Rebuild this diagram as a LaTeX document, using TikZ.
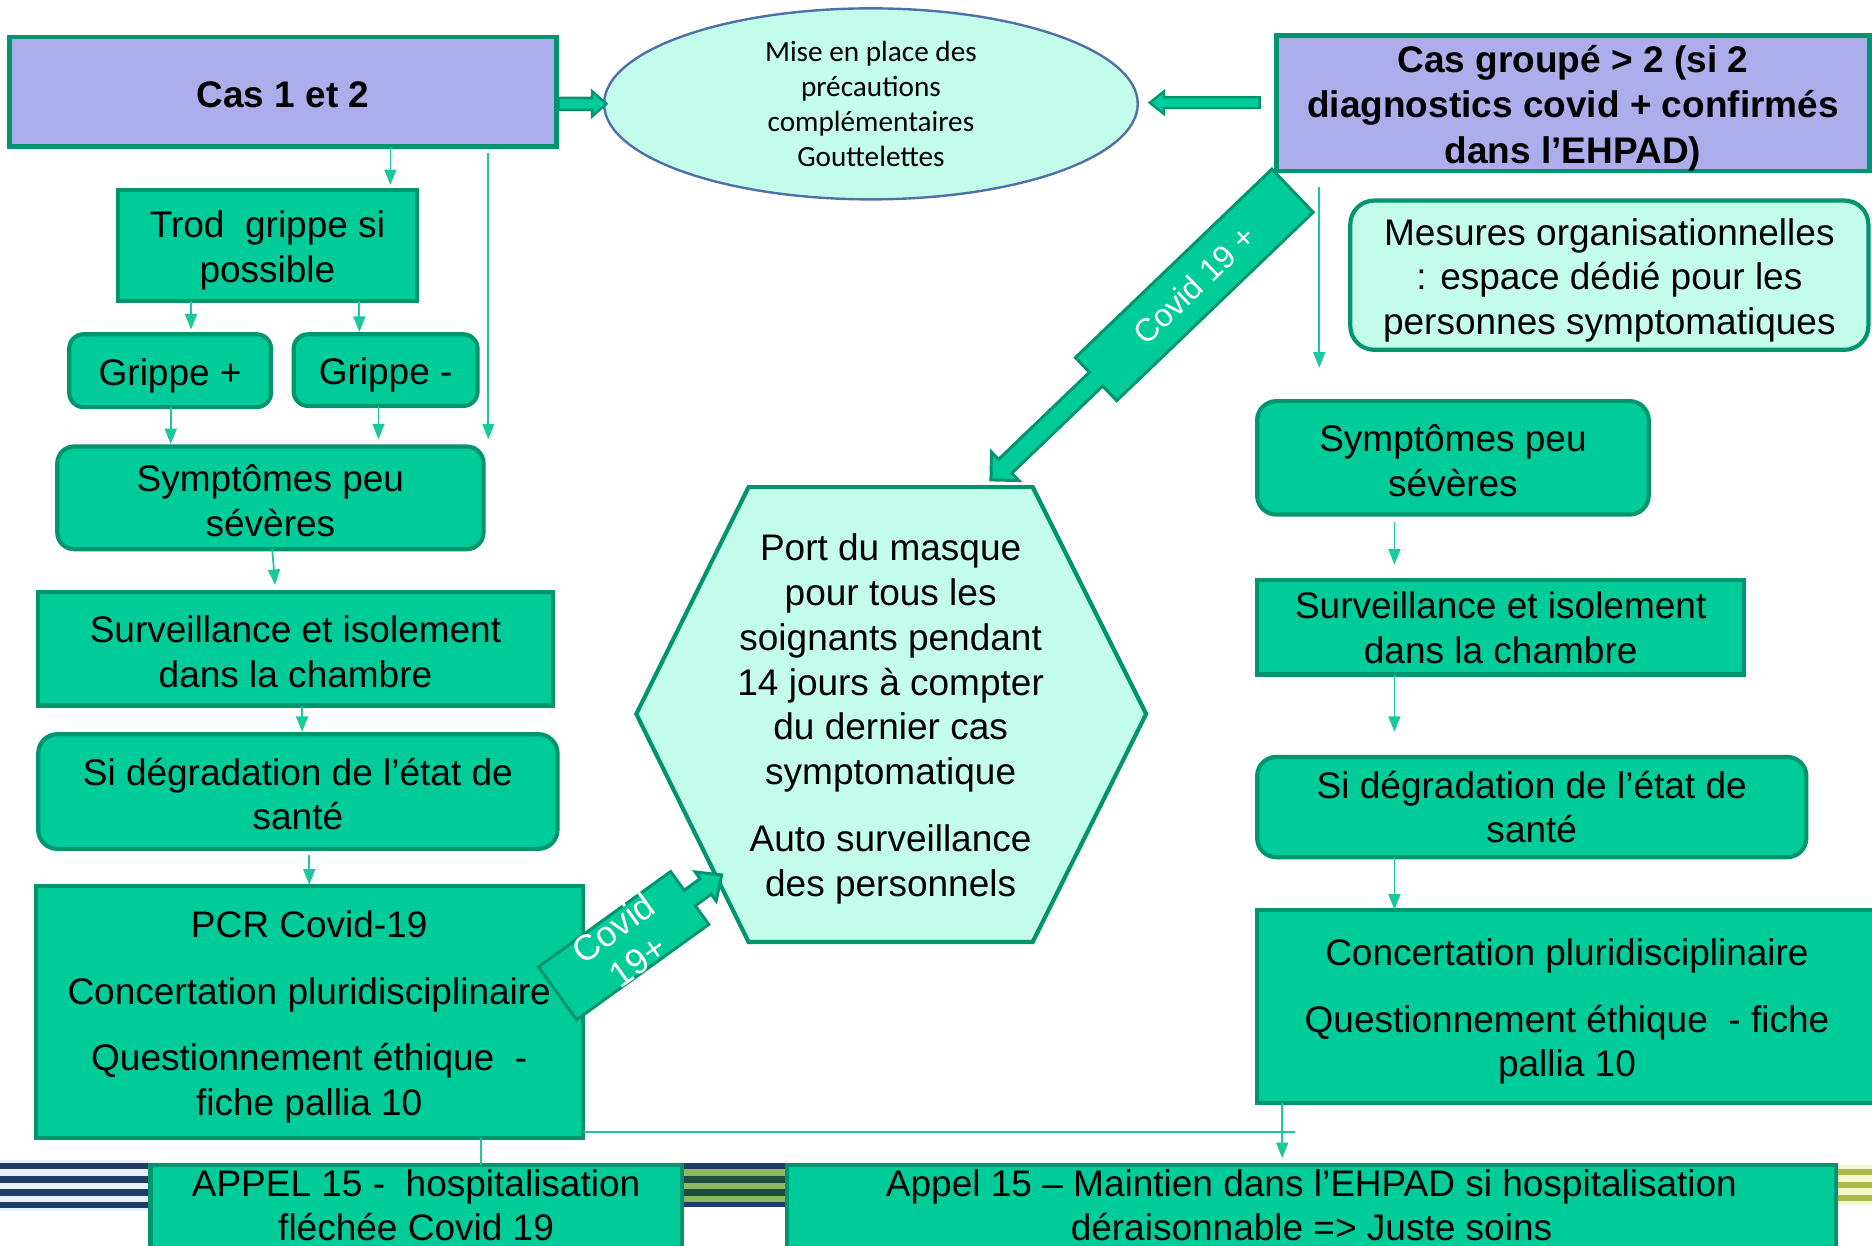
\documentclass[tikz,border=0pt]{standalone}
\usepackage{fontspec}
\setmainfont{Liberation Sans}
\newfontfamily\calibfont{Carlito}
\usetikzlibrary{arrows.meta,shapes.geometric}
\definecolor{gfill}{HTML}{00CC99}
\definecolor{gline}{HTML}{00956F}
\definecolor{lav}{HTML}{ADADEB}
\definecolor{mint}{HTML}{C4FCEB}
\definecolor{ebl}{HTML}{4F6FA8}
\definecolor{cline}{HTML}{1AC89B}
\definecolor{navy}{HTML}{1F3C66}
\definecolor{paleblue}{HTML}{E4F2F8}
\definecolor{olive}{HTML}{8DB862}
\definecolor{dkgreen}{HTML}{1B4D3C}
\definecolor{yolive}{HTML}{A9B94C}
\definecolor{pale}{HTML}{F3F8CF}
\newcommand\tp{\rule{0pt}{31pt}}
\newcommand\tq{\rule{0pt}{27pt}}
\begin{document}
\begin{tikzpicture}[x=1pt,y=-1pt,
  every node/.style={inner sep=0pt,outer sep=0pt,align=center,font=\fontsize{31}{37.5}\selectfont},
  gbox/.style={draw=gline,fill=gfill,line width=3.5pt},
  rbox/.style={gbox,rounded corners=14pt},
  lbox/.style={draw=gline,fill=lav,line width=4pt,font=\bfseries\fontsize{31}{38}\selectfont},
  mbox/.style={draw=gline,fill=mint,line width=3.5pt,rounded corners=20pt},
  arr/.style={draw=cline,line width=1.5pt,-{Triangle[length=13pt,width=10pt]}},
  plainline/.style={draw=cline,line width=1.5pt},
  blockarrow/.style={draw=gline,fill=gfill,line width=2.5pt,line join=miter},
  covid/.style={text=white,font=\fontsize{27}{32}\selectfont},
]
\useasboundingbox (0,0) rectangle (1568,1043);
\clip (0,0) rectangle (1568,1043);
\fill[white] (0,0) rectangle (1568,1043);

% decorative stripes at the bottom
\fill[paleblue] (0,972) rectangle (126,1014);
\foreach \y in {974,985,996,1006.5} \fill[navy] (0,\y) rectangle (126,\y+5.5);
\fill[navy] (571,974) rectangle (659,1011);
\foreach \y in {979.5,990.5,1001} \fill[olive] (571,\y) rectangle (659,\y+5.5);
\foreach \y in {985,996} \fill[dkgreen] (571,\y) rectangle (659,\y+5.5);
\fill[pale] (1538,976) rectangle (1568,1009);
\foreach \y in {979,990,1001} \fill[yolive] (1538,\y) rectangle (1568,\y+5);

% left column
\node[lbox,minimum width=458,minimum height=92] (cas12) at (237,77) {\rule{0pt}{27pt}Cas 1 et 2};
\node[gbox,minimum width=250,minimum height=93] (trod) at (224,205.5) {\tp Trod\ \ grippe si\\possible};
\node[rbox,rounded corners=12pt,minimum width=169,minimum height=61] (gripeP) at (142.5,310.5) {\tp Grippe +};
\node[rbox,rounded corners=12pt,minimum width=154,minimum height=60] (gripeM) at (323,310) {\tp Grippe -};
\node[rbox,minimum width=357,minimum height=86] (symL) at (226.5,417) {\tq Symptômes peu\\sévères};
\node[gbox,minimum width=431,minimum height=95] (survL) at (247.5,543.5) {\tq Surveillance et isolement\\dans la chambre};
\node[rbox,rounded corners=16pt,minimum width=435,minimum height=96] (degL) at (249.5,663) {\tq Si dégradation de l’état de\\santé};
\node[gbox,minimum width=458,minimum height=211] (pcr) at (259,847.5) {\tp PCR Covid-19\\[18.5pt]Concertation pluridisciplinaire\\[18.5pt]Questionnement éthique\ \ -\\fiche pallia 10};
\node[gbox,minimum width=445,minimum height=74] (appelL) at (348.5,1013) {};
\node (appelLt) at (348.5,1009.5) {APPEL 15 -\ \ hospitalisation\\fléchée Covid 19};

% centre
\node[ellipse,draw=ebl,fill=mint,line width=2pt,minimum width=447,minimum height=160,font=\calibfont\fontsize{24.5}{29.3}\selectfont] (ell) at (729.5,87) {Mise en place des\\précautions\\complémentaires\\Gouttelettes};
\path[draw=gline,fill=mint,line width=3.5pt] (627,408) -- (865,408) -- (960,598) -- (865,789) -- (627,789) -- (533,598) -- cycle;
\node (hex) at (746,600) {\tq Port du masque\\pour tous les\\soignants pendant\\14 jours à compter\\du dernier cas\\symptomatique\\[18.5pt]Auto surveillance\\des personnels};

% right column
\node[lbox,minimum width=497,minimum height=105] (casG) at (1317.5,86.5) {\tp Cas groupé > 2 (si 2\\diagnostics covid + confirmés\\dans l’EHPAD)};
\node[mbox,minimum width=434,minimum height=125] (mes) at (1348,230.5) {\tp Mesures organisationnelles\\: espace dédié pour les\\personnes symptomatiques};
\node[rbox,rounded corners=16pt,minimum width=328,minimum height=95] (symR) at (1217,383.5) {\tq Symptômes peu\\sévères};
\node[gbox,minimum width=408,minimum height=79] (survR) at (1257,525.5) {Surveillance et isolement\\dans la chambre};
\node[rbox,rounded corners=16pt,minimum width=460,minimum height=84] (degR) at (1283,676) {Si dégradation de l’état de\\santé};
\node[gbox,minimum width=519,minimum height=162] (concR) at (1312.5,843) {\tp Concertation pluridisciplinaire\\[18.5pt]Questionnement éthique\ \ - fiche\\pallia 10};
\node[gbox,minimum width=879,minimum height=74] (appelR) at (1098.5,1013) {};
\node (appelRt) at (1098.5,1009.5) {Appel 15 – Maintien dans l’EHPAD si hospitalisation\\déraisonnable => Juste soins};

% block arrows to the ellipse
\begin{scope}[shift={(ell.west)}]
\path[blockarrow,line width=2pt] (-38,-5) -- (-10,-5) -- (-10,-10.5) -- (2,0) -- (-10,10.5) -- (-10,5) -- (-38,5) -- cycle;
\end{scope}
\begin{scope}[shift={(ell.east)}]
\path[blockarrow,line width=2pt] (10,-1) -- (22,-10.5) -- (22,-5.5) -- (102,-5.5) -- (102,3.5) -- (22,3.5) -- (22,8.5) -- cycle;
\end{scope}

% big Covid 19 + arrow
\begin{scope}[shift={(830,402)},rotate=43.8]
\path[blockarrow] (0,0) -- (16.5,-16.5) -- (16.5,-8) -- (122,-8) -- (122,-25) -- (350,-25) -- (350,25) -- (122,25) -- (122,8) -- (16.5,8) -- (16.5,16.5) -- cycle;
\node[covid,rotate=43.8] (cov1) at (236,0) {Covid 19 +};
\end{scope}

% small Covid 19+ arrow
\begin{scope}[shift={(467,832)},rotate=35.8]
\path[blockarrow] (0,-27.3) -- (136.5,-27.3) -- (136.5,-8) -- (153,-8) -- (153,-15) -- (169.5,0) -- (153,15) -- (153,8) -- (136.5,8) -- (136.5,27.3) -- (0,27.3) -- cycle;
\node[covid,font=\fontsize{30}{34}\selectfont,rotate=35.8] (cov2) at (70,0) {Covid\\19+};
\end{scope}

% thin connectors, left
\draw[arr,shorten >=4pt] ([xshift=90pt]cas12.south) -- ([xshift=103pt]trod.north);
\draw[arr] ([xshift=172pt,yshift=-5pt]cas12.south) -- ([xshift=182.5pt,yshift=6pt]symL.north);
\draw[arr,shorten >=4pt] ([xshift=-64pt]trod.south) -- ([xshift=17.5pt]gripeP.north);
\draw[arr,shorten >=2pt] ([xshift=77pt]trod.south) -- ([xshift=-22pt]gripeM.north);
\draw[arr,shorten >=2pt] ([xshift=0.5pt]gripeP.south) -- ([xshift=-83.5pt]symL.north);
\draw[arr,shorten >=6pt] ([xshift=-6pt]gripeM.south) -- ([xshift=90.5pt]symL.north);
\draw[arr,shorten >=6pt] ([xshift=1.5pt]symL.south) -- ([xshift=-16.5pt]survL.north);
\draw[arr,shorten >=2pt] ([xshift=5.5pt]survL.south) -- ([xshift=3.5pt]degL.north);
\draw[arr,shorten >=1pt] ([xshift=9.5pt,yshift=-5pt]degL.south) -- (pcr.north);

% thin connectors, right
\draw[arr] ([xshift=-212.5pt,yshift=-13pt]casG.south) -- ([xshift=-112pt,yshift=28pt]symR.north);
\draw[arr,shorten >=13pt] ([xshift=-49pt,yshift=-6pt]symR.south) -- ([xshift=-89pt]survR.north);
\draw[arr,shorten >=21pt] ([xshift=-89pt]survR.south) -- ([xshift=-115pt]degR.north);
\draw[arr] ([xshift=-115pt]degR.south) -- ([xshift=-144.5pt]concR.north);
\draw[arr,shorten >=6pt] ([xshift=-238.5pt]concR.south) -- ([xshift=-24.5pt]appelR.north);

% bottom connectors
\draw[plainline] ([yshift=-100.5pt]pcr.east) -- ([xshift=-13.5pt,yshift=28pt]appelR.north);
\draw[plainline] ([xshift=144pt]pcr.south) -- ([xshift=54.5pt]appelL.north);
\end{tikzpicture}
\end{document}
